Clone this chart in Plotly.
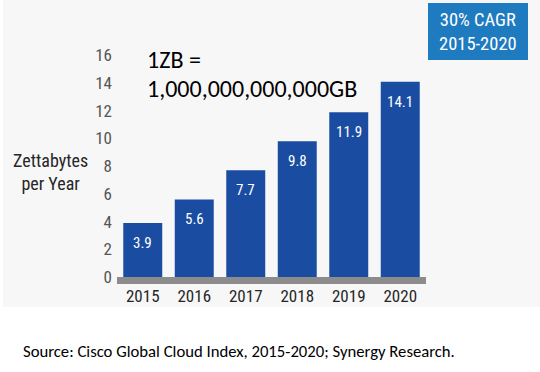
import plotly.graph_objects as go

years = ["2015", "2016", "2017", "2018", "2019", "2020"]
zettabytes = [3.9, 5.6, 7.7, 9.8, 11.9, 14.1]
y_ticks = [0, 2, 4, 6, 8, 10, 12, 14, 16]

COND = "Roboto Condensed, Arial Narrow, Roboto, sans-serif"
CAL = "Carlito, Calibri, Lato, sans-serif"

W, H = 540, 372
L, R, T, B = 117, 114, 47, 88
PW, PH = W - L - R, H - T - B

def px(x):
    return (x - L) / PW

def py(y):
    return (H - B - y) / PH

fig = go.Figure()
fig.add_trace(go.Bar(
    x=years, y=zettabytes,
    marker=dict(color="#1a4da1", line=dict(width=0)),
    hoverinfo="skip",
))

annotations = []
for i, v in enumerate(zettabytes):
    annotations.append(dict(
        x=i, y=v, xref="x", yref="y", text=f"{v}", showarrow=False,
        yanchor="middle", yshift=-20,
        font=dict(family=COND, size=15, color="white"),
    ))

annotations += [
    dict(x=px(50), y=py(172), xref="paper", yref="paper",
         text="Zettabytes<br>per Year", showarrow=False,
         xanchor="center", yanchor="middle", align="center",
         font=dict(family=COND, size=18, color="#262626")),
    dict(x=px(145), y=py(59), xref="paper", yref="paper",
         text="1ZB =", showarrow=False, xanchor="left", yanchor="middle",
         font=dict(family=CAL, size=24, color="black")),
    dict(x=px(145), y=py(88), xref="paper", yref="paper",
         text="1,000,000,000,000GB", showarrow=False, xanchor="left", yanchor="middle",
         font=dict(family=CAL, size=24, color="black")),
    dict(x=px(478), y=py(31.5), xref="paper", yref="paper",
         text="30% CAGR<br>2015-2020", showarrow=False,
         xanchor="center", yanchor="middle", align="center",
         font=dict(family=COND, size=18.5, color="white")),
    dict(x=px(21), y=py(351), xref="paper", yref="paper",
         text="Source: Cisco Global Cloud Index, 2015-2020; Synergy Research.",
         showarrow=False, xanchor="left", yanchor="middle",
         font=dict(family=CAL, size=16.7, color="black")),
]

shapes = [
    dict(type="rect", xref="paper", yref="paper",
         x0=px(3), x1=px(540), y0=py(307), y1=py(0),
         fillcolor="#f7f7f7", line=dict(width=0), layer="below"),
    dict(type="rect", xref="paper", yref="y",
         x0=0, x1=1, y0=-0.5, y1=0,
         fillcolor="#8c8c8c", line=dict(width=0), layer="above"),
    dict(type="rect", xref="paper", yref="paper",
         x0=px(428), x1=px(528), y0=py(60), y1=py(3),
         fillcolor="#1f7bc0", line=dict(width=0), layer="below"),
]

fig.update_layout(
    width=W, height=H,
    margin=dict(l=L, r=R, t=T, b=B, pad=0),
    paper_bgcolor="white", plot_bgcolor="rgba(0,0,0,0)",
    showlegend=False, bargap=0.243,
    annotations=annotations, shapes=shapes,
    xaxis=dict(type="category", range=[-0.5, 5.5], showgrid=False, zeroline=False,
               showline=False, ticks="",
               tickfont=dict(family=COND, size=17, color="#262626"),
               fixedrange=True),
    yaxis=dict(range=[-0.5, 16.6], tickvals=y_ticks, showgrid=False, zeroline=False,
               showline=False, ticks="", ticklabelstandoff=4,
               tickfont=dict(family=COND, size=17, color="#555555"),
               fixedrange=True),
)

fig.write_html("out.html", config={"displayModeBar": False},
               post_script="document.body.style.margin='0';")
